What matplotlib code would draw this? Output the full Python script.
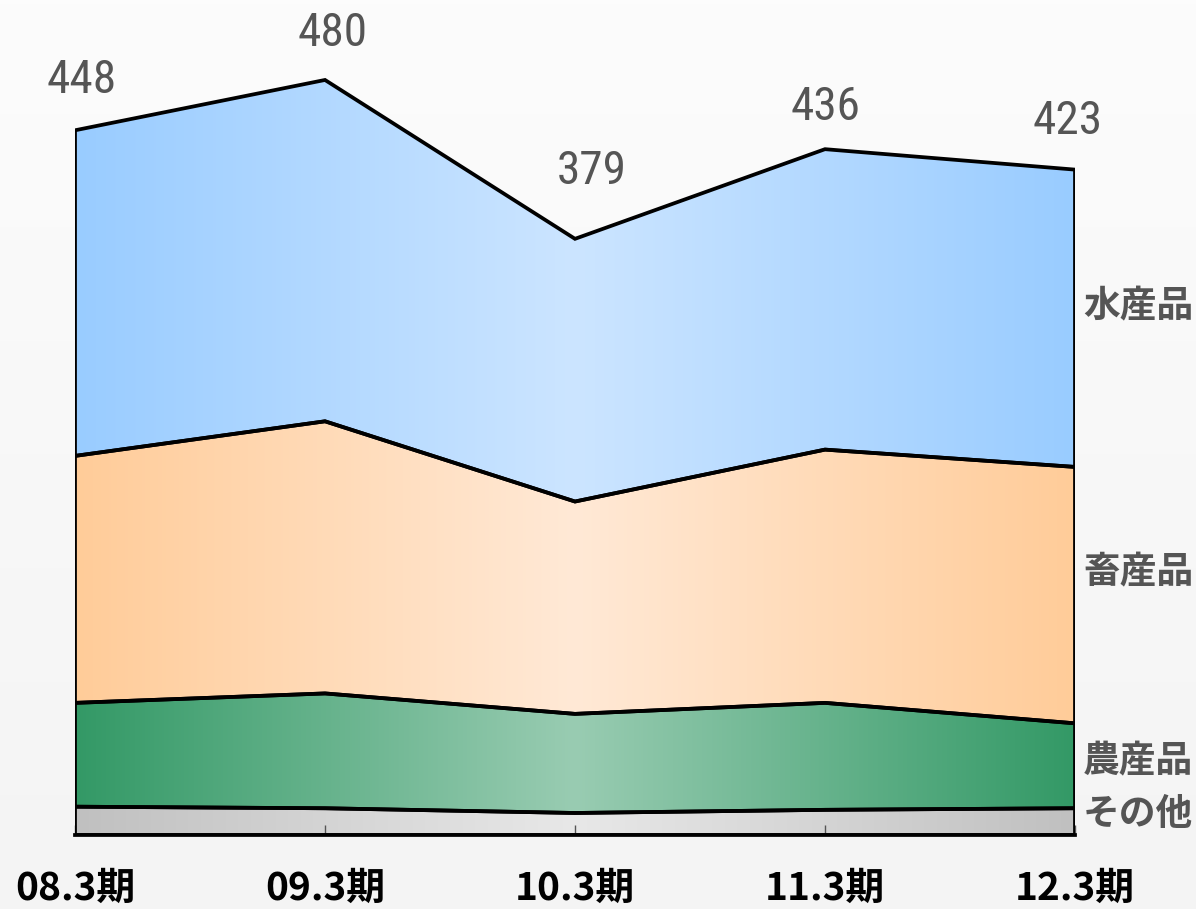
import numpy as np
import matplotlib
matplotlib.use("Agg")
import matplotlib.pyplot as plt
from matplotlib.patches import Polygon
from matplotlib.colors import to_rgb
from matplotlib import font_manager

# ---- data ----
periods = ["08.3期", "09.3期", "10.3期", "11.3期", "12.3期"]
series_names = ["その他", "農産品", "畜産品", "水産品"]
sonota = [18, 17, 14, 16, 17]
nousan = [66, 73, 63, 68, 54]
chikusan = [157, 173, 135, 161, 163]
suisan = [207, 217, 167, 191, 189]
totals = [448, 480, 379, 436, 423]

# ---- styles ----
edge_colors = ["#C0C0C0", "#339966", "#FFCC99", "#99CCFF"]
mid_colors = ["#E8E8E8", "#99CCB2", "#FFE9D6", "#CCE5FF"]
label_offsets = [(7, 50), (8, 47), (17, 68), (1, 42), (-7, 49)]
right_label_y = [815, 762, 573, 307]  # pixel centres from top

jp = "Noto Sans CJK JP"
num_font = jp
for cand in ["Liberation Sans Narrow", "Roboto Condensed", "Open Sans Condensed"]:
    try:
        font_manager.findfont(cand, fallback_to_default=False)
        num_font = cand
        break
    except Exception:
        pass

W, H = 1196, 909
fig = plt.figure(figsize=(W / 100, H / 100), dpi=100)

# background gradient
bg = fig.add_axes([0, 0, 1, 1], zorder=-10)
g = np.linspace(0, 1, 256)[:, None]
top = np.array(to_rgb("#FCFCFC"))
bot = np.array(to_rgb("#F4F4F4"))
bgimg = top[None, None, :] * (1 - g[:, :, None]) + bot[None, None, :] * g[:, :, None]
bg.imshow(np.repeat(bgimg, 2, axis=1), aspect="auto", extent=[0, 1, 0, 1])
bg.set_axis_off()

scale = 1.573  # px per unit
base_px = 835
ax = fig.add_axes([75 / W, (H - base_px) / H, 1000 / W, base_px / H])
ymax = base_px / scale
ax.set_xlim(0, 4)
ax.set_ylim(0, ymax)
ax.patch.set_alpha(0)

x = np.arange(len(periods))
layers = [sonota, nousan, chikusan, suisan]
cum = np.zeros(len(x))
gx = np.linspace(0, 4, 400)
t = np.abs(gx - 2) / 2
for vals, ec, mc in zip(layers, edge_colors, mid_colors):
    lower = cum.copy()
    upper = cum + np.array(vals, dtype=float)
    verts = list(zip(x, upper)) + list(zip(x[::-1], lower[::-1]))
    poly = Polygon(verts, closed=True, facecolor="none", edgecolor="black",
                   lw=2.7, joinstyle="miter", zorder=3)
    ax.add_patch(poly)
    e = np.array(to_rgb(ec))
    m = np.array(to_rgb(mc))
    row = m[None, :] + (e - m)[None, :] * t[:, None]
    img = np.repeat(row[None, :, :], 2, axis=0)
    im = ax.imshow(img, extent=[0, 4, 0, ymax], aspect="auto", zorder=1,
                   interpolation="bilinear")
    im.set_clip_path(poly)
    cum = upper

ax.set_xlim(0, 4)
ax.set_ylim(0, ymax)

for s in ["left", "right", "top"]:
    ax.spines[s].set_visible(False)
ax.spines["bottom"].set_linewidth(2.7)
ax.spines["bottom"].set_color("black")
ax.spines["bottom"].set_zorder(4)
ax.set_yticks([])
ax.set_xticks(x)
ax.set_xticklabels([])
ax.tick_params(axis="x", direction="in", length=7, width=1, color="#555555")

# value labels
for i, (v, (dx, dy)) in enumerate(zip(totals, label_offsets)):
    ax.annotate(str(v), (i, v), xytext=(dx, dy), textcoords="offset pixels",
                ha="center", va="center", fontsize=34, color="#555555",
                family=[num_font, "DejaVu Sans"], annotation_clip=False)

# category labels
for i, p in enumerate(periods):
    ax.annotate(p, (i, 0), xytext=(0, -53), textcoords="offset pixels",
                ha="center", va="center", fontsize=28, fontweight="bold",
                color="black", family=[jp, "DejaVu Sans"], annotation_clip=False)

# right series labels
for name, yp in zip(series_names, right_label_y):
    fig.text(1083 / W, (H - yp) / H, name, ha="left", va="center",
             fontsize=26.5, fontweight="bold", color="#555555",
             family=[jp, "DejaVu Sans"])

fig.savefig("out.png", dpi=100)
